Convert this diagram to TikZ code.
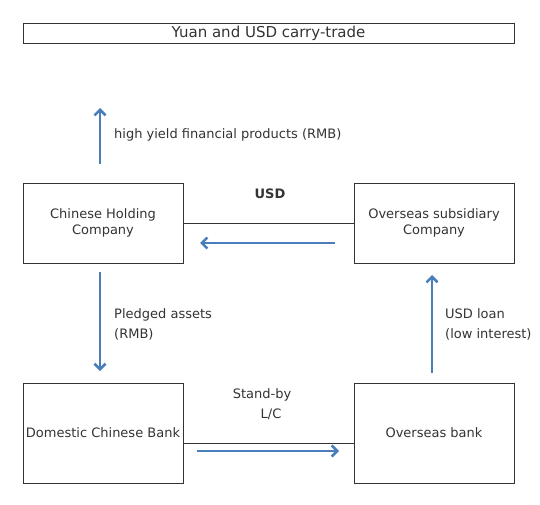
\documentclass[tikz,border=0pt]{standalone}
\usepackage{fontspec}
\setmainfont{DejaVu Sans}
\usetikzlibrary{arrows.meta,positioning}
\definecolor{flowblue}{HTML}{4A7EBB}
\definecolor{inkgray}{HTML}{333333}

\begin{document}
\begin{tikzpicture}[
            x=1pt,
            y=-1pt,
            font=\fontsize{13}{16}\selectfont,
            text=inkgray,
            party/.style={draw=inkgray, semithick, minimum width=160pt, minimum height=80pt, align=center, inner sep=1pt},
            bank/.style={party, minimum height=100pt},
            titlebox/.style={draw=inkgray, semithick, minimum width=491pt, minimum height=20pt, inner sep=0pt, font=\fontsize{15}{17}\selectfont},
            link/.style={draw=inkgray, semithick},
            flow/.style={draw=flowblue, line width=2.6pt, -{Straight Barb[length=5.5pt, width=11pt, line width=2.6pt]}},
            flowlabel/.style={anchor=west, align=left, inner sep=0pt},
        ]
        \useasboundingbox (0,0) rectangle (540,505);
        % title
        \node[titlebox] (title) at (268.5,33) {Yuan and USD carry-trade};
        % the four parties
        \node[party] (holding) at (103,223) {Chinese Holding\\Company};
        \node[party] (subsid) at (434,223) {Overseas subsidiary\\Company};
        \node[bank] (dombank) at (103,433) {Domestic Chinese Bank};
        \node[bank] (osbank) at (434,433) {Overseas bank};
        % links between parties
        \draw[link] (holding.east) -- (subsid.west);
        \draw[link] ([yshift=-10pt]dombank.east) -- ([yshift=-10pt]osbank.west);
        % flows
        \coordinate (yieldA) at (100,164); \coordinate (yieldB) at (100,108);
        \coordinate (usdA) at (335,243);   \coordinate (usdB) at (200,243);
        \coordinate (pledgeA) at (100,272); \coordinate (pledgeB) at (100,371);
        \coordinate (loanA) at (432,373);  \coordinate (loanB) at (432,275);
        \coordinate (lcA) at (197,451);    \coordinate (lcB) at (339,451);
        \draw[flow] (yieldA) -- (yieldB);
        \draw[flow] (usdA) -- (usdB);
        \draw[flow] (pledgeA) -- (pledgeB);
        \draw[flow] (loanA) -- (loanB);
        \draw[flow] (lcA) -- (lcB);
        % labels
        \node[flowlabel] (yieldtext) at (114,134.5) {high yield financial products (RMB)};
        \node[font=\fontsize{13}{16}\selectfont\bfseries] (usdtext) at (270,194) {USD};
        \node[flowlabel, align=left] (pledgetext) at (114,324.5) {Pledged assets\\[4pt](RMB)};
        \node[flowlabel, align=left] (loantext) at (445,324.5) {USD loan\\[4pt](low interest)};
        \node[align=center] (lctext) at (262,404.5) {Stand-by\\[4pt]\hspace*{18pt}L/C};
\end{tikzpicture}
\end{document}
